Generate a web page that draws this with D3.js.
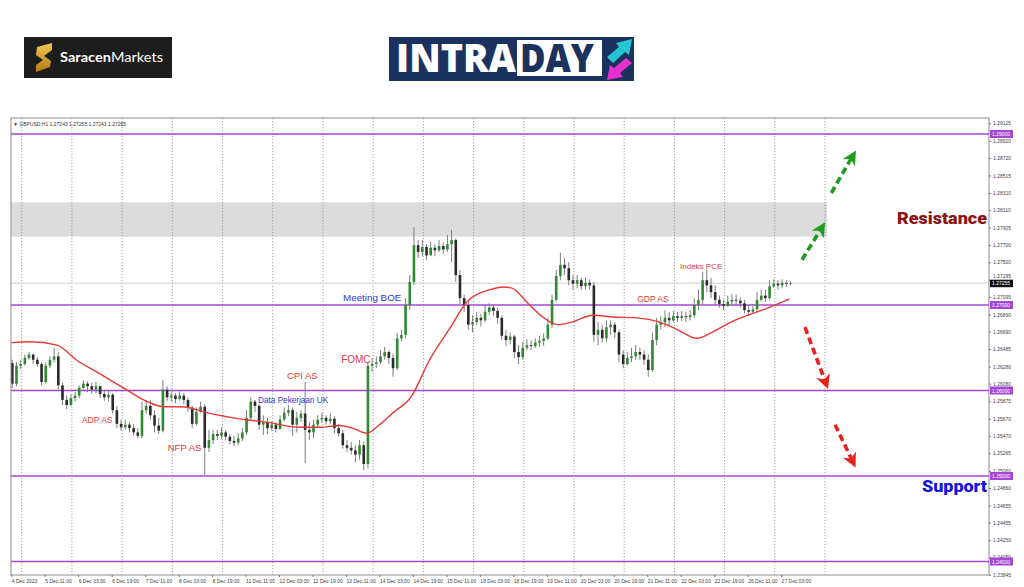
<!DOCTYPE html>
<html>
<head>
<meta charset="utf-8">
<script src="https://cdn.jsdelivr.net/npm/d3@7"></script>
<style>
  body { margin: 0; background: #fff; }
  svg { display: block; }
</style>
</head>
<body>
<svg id="chart" width="1024" height="587"></svg>
<script>
const firstOpen = 1.2632;
const closes = [
  1.2608,1.2629,1.2631,1.2638,1.2642,1.2636,1.2631,1.2610,1.2629,1.2636,
  1.2640,1.2606,1.2589,1.2583,1.2591,1.2594,1.2603,1.2608,1.2605,1.2601,
  1.2605,1.2596,1.2592,1.2595,1.2577,1.2561,1.2557,1.2560,1.2556,1.2551,
  1.2547,1.2577,1.2582,1.2571,1.2559,1.2553,1.2601,1.2592,1.2594,1.2590,
  1.2594,1.2589,1.2580,1.2561,1.2575,1.2581,1.2533,1.2542,1.2549,1.2547,
  1.2551,1.2546,1.2541,1.2539,1.2544,1.2551,1.2568,1.2587,1.2582,1.2560,
  1.2563,1.2556,1.2560,1.2555,1.2566,1.2574,1.2577,1.2560,1.2568,1.2573,
  1.2554,1.2551,1.2560,1.2566,1.2568,1.2564,1.2567,1.2556,1.2550,1.2536,
  1.2533,1.2530,1.2525,1.2536,1.2514,1.2629,1.2631,1.2633,1.2640,1.2645,
  1.2638,1.2626,1.2661,1.2665,1.2700,1.2727,1.2770,1.2762,1.2768,1.2758,
  1.2767,1.2764,1.2769,1.2765,1.2771,1.2776,1.2735,1.2708,1.2700,1.2677,
  1.2680,1.2685,1.2682,1.2692,1.2697,1.2693,1.2685,1.2664,1.2659,1.2663,
  1.2645,1.2639,1.2650,1.2653,1.2652,1.2656,1.2658,1.2661,1.2677,1.2706,
  1.2734,1.2747,1.2743,1.2729,1.2725,1.2729,1.2722,1.2726,1.2723,1.2665,
  1.2671,1.2661,1.2674,1.2677,1.2668,1.2642,1.2631,1.2638,1.2640,1.2645,
  1.2642,1.2636,1.2624,1.2659,1.2677,1.2680,1.2685,1.2682,1.2687,1.2685,
  1.2687,1.2686,1.2688,1.2700,1.2706,1.2729,1.2723,1.2715,1.2706,1.2701,
  1.2699,1.2704,1.2706,1.2705,1.2702,1.2694,1.2692,1.2695,1.2706,1.2711,
  1.2708,1.2722,1.2725,1.2723,1.2726,1.2725,1.27255
];
const highs = [
  1.2636,1.2633,1.2636,1.2642,1.2645,1.2643,1.2639,1.2633,1.2633,1.2640,
  1.2650,1.2645,1.2609,1.2594,1.2596,1.2598,1.2606,1.2612,1.2611,1.2609,
  1.2610,1.2606,1.2601,1.2601,1.2597,1.2582,1.2566,1.2566,1.2563,1.2561,
  1.2556,1.2587,1.2589,1.2589,1.2577,1.2568,1.2612,1.2605,1.2598,1.2597,
  1.2599,1.2597,1.2592,1.2582,1.2580,1.2587,1.2584,1.2554,1.2554,1.2554,
  1.2557,1.2554,1.2549,1.2547,1.2550,1.2556,1.2577,1.2592,1.2589,1.2584,
  1.2571,1.2568,1.2564,1.2563,1.2571,1.2580,1.2583,1.2580,1.2575,1.2577,
  1.2610,1.2563,1.2566,1.2571,1.2574,1.2571,1.2573,1.2570,1.2561,1.2554,
  1.2542,1.2540,1.2536,1.2542,1.2540,1.2633,1.2638,1.2640,1.2647,1.2651,
  1.2647,1.2643,1.2667,1.2671,1.2708,1.2735,1.2791,1.2776,1.2776,1.2771,
  1.2774,1.2771,1.2776,1.2773,1.2782,1.2788,1.2778,1.2741,1.2712,1.2706,
  1.2688,1.2692,1.2690,1.2700,1.2702,1.2700,1.2697,1.2688,1.2671,1.2668,
  1.2665,1.2653,1.2657,1.2660,1.2659,1.2661,1.2664,1.2667,1.2685,1.2712,
  1.2741,1.2761,1.2755,1.2750,1.2735,1.2735,1.2732,1.2732,1.2730,1.2727,
  1.2680,1.2677,1.2682,1.2682,1.2680,1.2671,1.2647,1.2645,1.2650,1.2653,
  1.2650,1.2647,1.2642,1.2668,1.2685,1.2687,1.2694,1.2692,1.2693,1.2692,
  1.2693,1.2692,1.2694,1.2708,1.2718,1.2739,1.2741,1.2732,1.2723,1.2711,
  1.2706,1.2711,1.2713,1.2712,1.2709,1.2706,1.2700,1.2701,1.2715,1.2718,
  1.2718,1.2729,1.2730,1.2729,1.2730,1.2729,1.2728
];
const lows = [
  1.2603,1.2605,1.2625,1.2629,1.2636,1.2631,1.2628,1.2606,1.2608,1.2626,
  1.2633,1.2601,1.2583,1.2578,1.2582,1.2587,1.2591,1.2601,1.2598,1.2596,
  1.2597,1.2591,1.2588,1.2587,1.2573,1.2556,1.2553,1.2554,1.2551,1.2547,
  1.2544,1.2544,1.2573,1.2566,1.2551,1.2549,1.2551,1.2588,1.2587,1.2585,
  1.2588,1.2584,1.2575,1.2556,1.2559,1.2574,1.2501,1.2528,1.2537,1.2542,
  1.2543,1.2542,1.2537,1.2535,1.2536,1.2541,1.2548,1.2566,1.2575,1.2554,
  1.2548,1.2549,1.2553,1.2551,1.2554,1.2564,1.2570,1.2547,1.2551,1.2563,
  1.2515,1.2542,1.2544,1.2556,1.2562,1.2560,1.2561,1.2550,1.2546,1.2532,
  1.2528,1.2525,1.2516,1.2519,1.2507,1.2509,1.2622,1.2626,1.2631,1.2636,
  1.2631,1.2616,1.2624,1.2657,1.2661,1.2694,1.2723,1.2755,1.2757,1.2753,
  1.2760,1.2757,1.2762,1.2760,1.2762,1.2750,1.2727,1.2701,1.2692,1.2671,
  1.2668,1.2677,1.2675,1.2680,1.2688,1.2687,1.2678,1.2659,1.2652,1.2654,
  1.2638,1.2631,1.2636,1.2647,1.2647,1.2650,1.2651,1.2652,1.2659,1.2673,
  1.2704,1.2729,1.2735,1.2723,1.2718,1.2720,1.2718,1.2718,1.2718,1.2657,
  1.2653,1.2656,1.2657,1.2665,1.2661,1.2633,1.2626,1.2629,1.2633,1.2636,
  1.2636,1.2630,1.2616,1.2622,1.2653,1.2671,1.2674,1.2675,1.2680,1.2680,
  1.2681,1.2680,1.2682,1.2685,1.2694,1.2700,1.2715,1.2708,1.2700,1.2697,
  1.2694,1.2698,1.2700,1.2700,1.2697,1.2690,1.2687,1.2690,1.2691,1.2704,
  1.2704,1.2706,1.2720,1.2718,1.2720,1.2721,1.2723
];

// moving average (red), sampled at H1 bar index
const maBars = [0,9,22,31,42,55,65,73,82,92,106,122,138,148,157,163,170,176,183,191,
  200,210,218,229,235,239,247,254,261,268,278,288,299,310,317,328,335,344,352,359,367,372];
const maValues = [1.2656,1.2657,1.2653,1.2636,1.2620,1.2601,1.2587,1.2581,1.2581,1.2575,
  1.2568,1.2563,1.2557,1.2557,1.2559,1.2556,1.2550,1.2560,1.2575,1.2592,
  1.2636,1.2674,1.2704,1.2718,1.2721,1.2720,1.2702,1.2686,1.2677,1.2680,
  1.2688,1.2686,1.2685,1.2680,1.2673,1.2661,1.2668,1.2680,1.2688,1.2694,1.2702,1.2707];

const levels = [1.29, 1.27, 1.26, 1.25, 1.24];
const zone = [1.2780, 1.2820];
const lastPrice = 1.27255;
const yTicks = [1.29125,1.28920,1.28720,1.28515,1.28310,1.28110,1.27905,1.27700,1.27500,
  1.27295,1.27095,1.26890,1.26690,1.26485,1.26280,1.26080,1.25875,1.25670,1.25470,
  1.25265,1.25060,1.24860,1.24655,1.24455,1.24250,1.24050,1.23845];
const xLabels = ["4 Dec 2023","5 Dec 11:00","6 Dec 03:00","6 Dec 19:00","7 Dec 11:00",
  "8 Dec 03:00","8 Dec 19:00","11 Dec 11:00","12 Dec 03:00","12 Dec 19:00","13 Dec 11:00",
  "14 Dec 03:00","14 Dec 19:00","15 Dec 11:00","18 Dec 03:00","18 Dec 19:00","19 Dec 11:00",
  "20 Dec 03:00","20 Dec 19:00","21 Dec 11:00","22 Dec 03:00","22 Dec 19:00","26 Dec 11:00",
  "27 Dec 03:00"];
const dayBars = d3.range(5, 390, 24);

// event notes: text, bar, price, kind, size
const notes = [
  ["ADP AS", 33.8, 1.2562, "red", 8.5],
  ["NFP AS", 74.8, 1.2529, "red", 9.5],
  ["Data Pekerjaan UK", 118, 1.2585, "blue", 8.2],
  ["CPI AS", 131.8, 1.2614, "red", 9.5],
  ["FOMC", 157.7, 1.2632, "red", 10],
  ["Meeting BOE", 158.6, 1.2705, "blue", 9.8],
  ["GDP AS", 299.2, 1.2704, "red", 8.5],
  ["Indeks PCE", 319.7, 1.2742, "red", 8]
];
// scenario arrows: [bar0, price0, bar1, price1, kind]
const arrows = [
  [378, 1.2753, 387.6, 1.2791, "up"],
  [392, 1.2831, 402.4, 1.2875, "up"],
  [379.4, 1.2674, 389.5, 1.2608, "down"],
  [393.8, 1.2560, 402.4, 1.2516, "down"]
];

const svg = d3.select("#chart");
const frame = {left: 11, right: 989, top: 118, bottom: 575};

const x = d3.scaleLinear().domain([0, 389]).range([11.24, 825.03]);
const y = d3.scaleLinear().domain([1.24, 1.29]).range([561.5, 134]);

// ---- logos ----
const defs = svg.append("defs");
const gold = defs.append("linearGradient").attr("id", "gold")
  .attr("x1", 0).attr("y1", 0).attr("x2", 0).attr("y2", 1);
gold.append("stop").attr("offset", "0%").attr("stop-color", "#f3c64f");
gold.append("stop").attr("offset", "100%").attr("stop-color", "#b47b16");

const logo1 = svg.append("g");
logo1.append("rect").attr("x", 24).attr("y", 37).attr("width", 148).attr("height", 41).attr("fill", "#1d1d1d");
logo1.append("path")
  .attr("d", "M37,47 L52,43 L52,50 L44,56 L51,61 L50,67 L36,72 L36,65 L43,60 L36,55 Z")
  .attr("fill", "url(#gold)");
const sTxt = logo1.append("text").attr("x", 60).attr("y", 62)
  .attr("font-family", "Lato, 'Open Sans', sans-serif").attr("font-size", 14).attr("fill", "#fff")
  .attr("textLength", 103).attr("lengthAdjust", "spacingAndGlyphs");
sTxt.append("tspan").attr("font-weight", 700).text("Saracen");
sTxt.append("tspan").attr("font-weight", 400).text("Markets");

const logo2 = svg.append("g");
logo2.append("rect").attr("x", 389).attr("y", 37).attr("width", 245).attr("height", 44).attr("fill", "#1b325e");
logo2.append("text").attr("x", 396).attr("y", 72)
  .attr("font-family", "'Open Sans', sans-serif").attr("font-weight", 800).attr("font-size", 39)
  .attr("textLength", 120).attr("lengthAdjust", "spacingAndGlyphs")
  .attr("fill", "#fff").text("INTRA");
logo2.append("rect").attr("x", 517).attr("y", 40).attr("width", 85).attr("height", 36).attr("fill", "#fff");
logo2.append("text").attr("x", 520).attr("y", 72)
  .attr("font-family", "'Open Sans', sans-serif").attr("font-weight", 800).attr("font-size", 39)
  .attr("textLength", 74).attr("lengthAdjust", "spacingAndGlyphs")
  .attr("fill", "#1b325e").text("DAY");
logo2.append("polygon").attr("points", "607,57 619,47 616,43 632,39 629,55 625,52 613,63").attr("fill", "#26c3d3");
logo2.append("polygon").attr("points", "632,63 620,73 623,77 607,80 610,65 614,68 626,58").attr("fill", "#e630cf");

// ---- chart frame, zone, grid ----
const chart = svg.append("g");
chart.append("rect").attr("x", frame.left).attr("y", y(zone[1]))
  .attr("width", x(389) + 2 - frame.left).attr("height", y(zone[0]) - y(zone[1]))
  .attr("fill", "#dcdcdc");

chart.selectAll("line.day").data(dayBars).join("line").attr("class", "day")
  .attr("x1", d => x(d)).attr("x2", d => x(d))
  .attr("y1", frame.top).attr("y2", frame.bottom)
  .attr("stroke", "#8a8a8a").attr("stroke-width", 0.8).attr("stroke-dasharray", "1.2,1.8");

chart.append("line").attr("x1", frame.left).attr("x2", frame.right)
  .attr("y1", y(lastPrice)).attr("y2", y(lastPrice))
  .attr("stroke", "#cfcfcf").attr("stroke-width", 1);

chart.selectAll("line.level").data(levels).join("line").attr("class", "level")
  .attr("x1", frame.left).attr("x2", frame.right)
  .attr("y1", d => y(d)).attr("y2", d => y(d))
  .attr("stroke", "#a447d4").attr("stroke-width", 1.5);

// ---- candles ----
const candles = closes.map((c, j) => {
  const o = j === 0 ? firstOpen : closes[j - 1];
  return {bar: 2 * j + 0.5, o, c, h: Math.max(highs[j], o, c), l: Math.min(lows[j], o, c)};
});
const cg = chart.append("g");
cg.selectAll("line").data(candles).join("line")
  .attr("x1", d => x(d.bar)).attr("x2", d => x(d.bar))
  .attr("y1", d => y(d.h)).attr("y2", d => y(d.l))
  .attr("stroke", "#7d7d7d").attr("stroke-width", 1);
cg.selectAll("rect").data(candles).join("rect")
  .attr("x", d => x(d.bar) - 1.3).attr("width", 2.6)
  .attr("y", d => y(Math.max(d.o, d.c)))
  .attr("height", d => Math.max(0.8, Math.abs(y(d.o) - y(d.c))))
  .attr("fill", d => d.c >= d.o ? "#2f8a2f" : "#2a2a2a");

// ---- moving average ----
const line = d3.line().x(d => x(d[0])).y(d => y(d[1])).curve(d3.curveMonotoneX);
chart.append("path").datum(maBars.map((b, i) => [b, maValues[i]]))
  .attr("d", line).attr("fill", "none").attr("stroke", "#e53a36").attr("stroke-width", 1.4);

// ---- frame border ----
chart.append("rect").attr("x", frame.left).attr("y", frame.top)
  .attr("width", frame.right - frame.left).attr("height", frame.bottom - frame.top)
  .attr("fill", "none").attr("stroke", "#8c8c8c").attr("stroke-width", 1);

chart.append("text").attr("x", 13).attr("y", 125.5)
  .attr("font-family", "'Liberation Sans', sans-serif").attr("font-size", 5).attr("fill", "#333")
  .text("\u25BC GBPUSD,H1  1.27243 1.27255 1.27243 1.27255");

// ---- axes ----
const yAxis = d3.axisRight(y).tickValues(yTicks).tickFormat(d3.format(".5f")).tickSize(2).tickPadding(2);
const ya = svg.append("g").attr("transform", `translate(${frame.right},0)`).call(yAxis);
ya.select(".domain").remove();
ya.selectAll("line").attr("stroke", "#777");
ya.selectAll("text").attr("font-family", "'Liberation Sans', sans-serif").attr("font-size", 5).attr("fill", "#444")
  // the tick sitting on the price tag is pushed just above it
  .attr("dy", d => Math.abs(y(d) - y(lastPrice)) < 6 ? "-0.4em" : "0.32em");

const xAxis = d3.axisBottom(x).tickValues(xLabels.map((_, i) => i * 16))
  .tickFormat((d, i) => xLabels[i]).tickSize(2).tickPadding(2);
const xa = svg.append("g").attr("transform", `translate(0,${frame.bottom})`).call(xAxis);
xa.select(".domain").remove();
xa.selectAll("line").attr("stroke", "#777");
xa.selectAll("text").attr("text-anchor", "start").attr("font-family", "'Liberation Sans', sans-serif")
  .attr("font-size", 5).attr("fill", "#444");

// price tags on the right
const tags = svg.append("g");
levels.forEach(v => {
  tags.append("rect").attr("x", frame.right + 1).attr("y", y(v) - 4).attr("width", 23).attr("height", 8).attr("fill", "#a447d4");
  tags.append("text").attr("x", frame.right + 3).attr("y", y(v) + 2)
    .attr("font-family", "'Liberation Sans', sans-serif").attr("font-size", 5).attr("fill", "#fff")
    .text(d3.format(".5f")(v));
});
tags.append("rect").attr("x", frame.right + 1).attr("y", y(lastPrice) - 3.5).attr("width", 23).attr("height", 7.5).attr("fill", "#111");
tags.append("text").attr("x", frame.right + 3).attr("y", y(lastPrice) + 2)
  .attr("font-family", "'Liberation Sans', sans-serif").attr("font-size", 5).attr("fill", "#fff")
  .text(d3.format(".5f")(lastPrice));

// ---- annotations ----
const ann = svg.append("g").attr("font-family", "'Liberation Sans', Arial, sans-serif");
ann.selectAll("text").data(notes).join("text")
  .attr("x", d => x(d[1])).attr("y", d => y(d[2]))
  .attr("font-size", d => d[4])
  .attr("fill", d => d[3] === "red" ? "#e23b38" : "#3535cc")
  .text(d => d[0]);

svg.append("text").attr("x", 987).attr("y", 224).attr("text-anchor", "end")
  .attr("font-family", "Roboto, sans-serif").attr("font-weight", 900).attr("font-size", 17)
  .attr("textLength", 90).attr("lengthAdjust", "spacingAndGlyphs")
  .attr("fill", "#8e1414").text("Resistance");
svg.append("text").attr("x", 987).attr("y", 492).attr("text-anchor", "end")
  .attr("font-family", "Roboto, sans-serif").attr("font-weight", 900).attr("font-size", 17)
  .attr("textLength", 65).attr("lengthAdjust", "spacingAndGlyphs")
  .attr("fill", "#1414e0").text("Support");

// ---- scenario arrows ----
const colors = {up: "#1f9a1f", down: "#e5231d"};
Object.entries(colors).forEach(([k, c]) => {
  defs.append("marker").attr("id", "head-" + k)
    .attr("viewBox", "0 0 10 10").attr("refX", 6).attr("refY", 5)
    .attr("markerWidth", 4).attr("markerHeight", 4).attr("markerUnits", "strokeWidth")
    .attr("orient", "auto")
    .append("path").attr("d", "M0,0 L10,5 L0,10 L3,5 Z").attr("fill", c);
});
svg.append("g").selectAll("line").data(arrows).join("line")
  .attr("x1", d => x(d[0])).attr("y1", d => y(d[1]))
  .attr("x2", d => x(d[2])).attr("y2", d => y(d[3]))
  .attr("stroke", d => colors[d[4]]).attr("stroke-width", 3.6)
  .attr("stroke-dasharray", "7,4")
  .attr("marker-end", d => `url(#head-${d[4]})`);
</script>
</body>
</html>
